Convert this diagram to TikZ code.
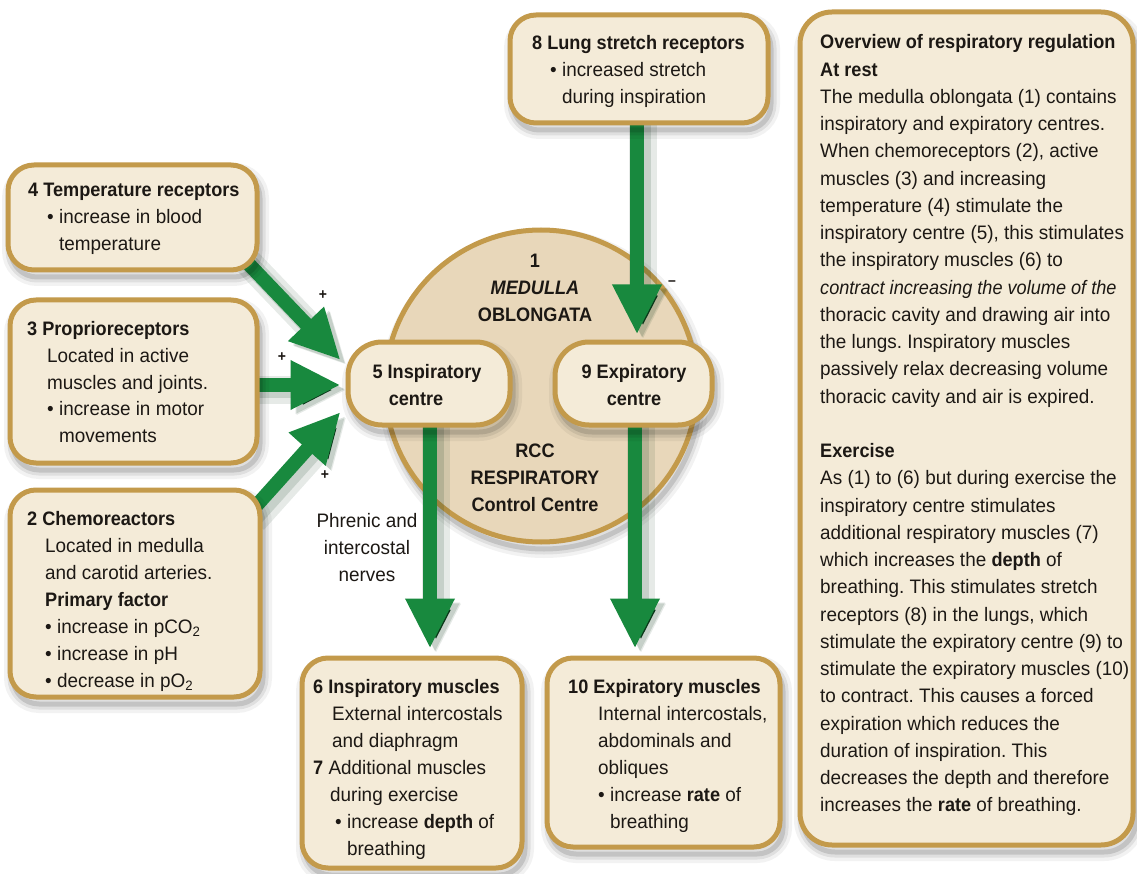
\documentclass[tikz,border=0pt]{standalone}
\usepackage{fontspec}
\setmainfont{Liberation Sans}[UprightFeatures={FakeStretch=0.97},ItalicFeatures={FakeStretch=0.93},
  BoldFeatures={FakeStretch=0.93},BoldItalicFeatures={FakeStretch=0.93}]
\usetikzlibrary{arrows.meta}
\frenchspacing

\definecolor{rim}{RGB}{195,154,75}
\definecolor{cream}{RGB}{244,235,216}
\definecolor{medtan}{RGB}{232,215,186}
\definecolor{leaf}{RGB}{24,137,62}
\definecolor{ink}{RGB}{28,24,20}

% stacked lines with a fixed baseline skip; first baseline is the reference
\newcommand{\textrows}[2][l]{\begin{tabular}[t]{@{}#1@{}}#2\end{tabular}}
\newcommand{\bul}{•\ }
\newcommand{\bulsp}{\phantom{•\ }}

\pgfdeclarelayer{back}
\pgfdeclarelayer{arrowlayer}
\pgfsetlayers{back,arrowlayer,main}

\tikzset{
  softshadow/.style={
    preaction={draw=black, draw opacity=0.05, line width=18pt, transform canvas={shift={(3pt,-7pt)}}},
    preaction={draw=black, draw opacity=0.08, line width=11pt, transform canvas={shift={(3pt,-7pt)}}},
    preaction={draw=black, draw opacity=0.12, line width=5pt, transform canvas={shift={(3pt,-7pt)}}}},
  box/.style={softshadow, draw=rim, line width=5pt, fill=cream, rounded corners=26pt, inner sep=0pt},
  txt/.style={inner sep=0pt, anchor=base west, text=ink, font=\fontsize{19.5}{27}\selectfont},
  ctxt/.style={txt, anchor=base},
  sign/.style={inner sep=0pt, text=ink, font=\bfseries\fontsize{15}{15}\selectfont},
  flow/.style={draw=leaf, line width=14pt, -{Triangle[length=50pt,width=46pt]},
    preaction={draw=leaf!40!black, draw opacity=0.10, line width=28pt,
      transform canvas={shift={(6pt,-5pt)}}},
    preaction={draw=leaf!40!black, draw opacity=0.14, line width=18pt,
      transform canvas={shift={(5pt,-4pt)}}}},
}

\begin{document}
\begin{tikzpicture}[x=1pt,y=-1pt]
\useasboundingbox (0,0) rectangle (1137,874);

% medulla oblongata
\begin{pgfonlayer}{back}
\fill[white] (0,0) rectangle (1137,874);
\node[softshadow, circle, draw=rim, line width=5pt, fill=medtan, minimum size=312pt, inner sep=0pt] (med) at (541,386) {};
\end{pgfonlayer}
\node[ctxt] (medtxt) at (535,268) {\textrows[c]{\textbf{1}\\\textbf{\textit{MEDULLA}}\\\textbf{OBLONGATA}}};
\node[ctxt] (rcctxt) at (535,457) {\textrows[c]{\textbf{RCC}\\\textbf{RESPIRATORY}\\\textbf{Control Centre}}};

% boxes
\node[box, minimum width=258pt, minimum height=108pt] (b8) at (639,69) {};
\node[box, minimum width=249pt, minimum height=105pt] (b4) at (132.5,217.5) {};
\node[box, minimum width=247pt, minimum height=163pt] (b3) at (133.5,381.5) {};
\node[box, minimum width=250pt, minimum height=207pt] (b2) at (135,593.5) {};
\node[box, rounded corners=34pt, minimum width=162pt, minimum height=83pt] (b5) at (429,383.5) {};
\node[box, rounded corners=34pt, minimum width=157pt, minimum height=83pt] (b9) at (633.5,383.5) {};
\node[box, minimum width=220pt, minimum height=210pt] (b6) at (412,763) {};
\node[box, minimum width=233pt, minimum height=189pt] (b10) at (663.5,752.5) {};
\node[box, rounded corners=32pt, minimum width=333pt, minimum height=833pt] (panel) at (966.5,428.5) {};

% box texts
\node[txt] (t8) at (532,50) {\textrows{\textbf{8 Lung stretch receptors}\\
  \hspace*{18pt}\bul increased stretch\\
  \hspace*{18pt}\bulsp during inspiration}};
\node[txt] (t4) at (28,197) {\textrows{\textbf{4 Temperature receptors}\\
  \hspace*{19pt}\bul increase in blood\\
  \hspace*{19pt}\bulsp temperature}};
\node[txt] (t3) at (27,335) {\textrows{\textbf{3 Proprioreceptors}\\
  \hspace*{20pt}Located in active\\
  \hspace*{20pt}muscles and joints.\\
  \hspace*{20pt}\bul increase in motor\\
  \hspace*{20pt}\bulsp movements}};
\node[txt] (t2) at (27,525) {\textrows{\textbf{2 Chemoreactors}\\
  \hspace*{18pt}Located in medulla\\
  \hspace*{18pt}and carotid arteries.\\
  \hspace*{18pt}\textbf{Primary factor}\\
  \hspace*{18pt}\bul increase in pCO\textsubscript{2}\\
  \hspace*{18pt}\bul increase in pH\\
  \hspace*{18pt}\bul decrease in pO\textsubscript{2}}};
\node[ctxt] (t5) at (427,378) {\textrows[c]{\textbf{5 Inspiratory}\\\textbf{centre}\hspace*{22pt}}};
\node[ctxt] (t9) at (634,378) {\textrows[c]{\textbf{9 Expiratory}\\\textbf{centre}}};
\node[txt] (t6) at (313,693) {\textrows{\textbf{6 Inspiratory muscles}\\
  \hspace*{19pt}External intercostals\\
  \hspace*{19pt}and diaphragm\\
  \textbf{7} Additional muscles\\
  \hspace*{17pt}during exercise\\
  \hspace*{22pt}\bul increase \textbf{depth} of\\
  \hspace*{22pt}\bulsp breathing}};
\node[txt] (t10) at (568,693) {\textrows{\textbf{10 Expiratory muscles}\\
  \hspace*{30pt}Internal intercostals,\\
  \hspace*{30pt}abdominals and\\
  \hspace*{30pt}obliques\\
  \hspace*{30pt}\bul increase \textbf{rate} of\\
  \hspace*{30pt}\bulsp breathing}};
\node[ctxt] (nerves) at (367,527) {\textrows[c]{Phrenic and\\intercostal\\nerves}};

% overview text
\node[txt, font=\fontsize{19.5}{27.25}\selectfont] (overview) at (820,49) {\textrows{%
  \textbf{Overview of respiratory regulation}\\
  \textbf{At rest}\\
  The medulla oblongata (1) contains\\
  inspiratory and expiratory centres.\\
  When chemoreceptors (2), active\\
  muscles (3) and increasing\\
  temperature (4) stimulate the\\
  inspiratory centre (5), this stimulates\\
  the inspiratory muscles (6) to\\
  \textit{contract increasing the volume of the}\\
  thoracic cavity and drawing air into\\
  the lungs. Inspiratory muscles\\
  passively relax decreasing volume\\
  thoracic cavity and air is expired.\\
  \\
  \textbf{Exercise}\\
  As (1) to (6) but during exercise the\\
  inspiratory centre stimulates\\
  additional respiratory muscles (7)\\
  which increases the \textbf{depth} of\\
  breathing. This stimulates stretch\\
  receptors (8) in the lungs, which\\
  stimulate the expiratory centre (9) to\\
  stimulate the expiratory muscles (10)\\
  to contract. This causes a forced\\
  expiration which reduces the\\
  duration of inspiration. This\\
  decreases the depth and therefore\\
  increases the \textbf{rate} of breathing.}};

% excitatory / inhibitory signs
\node[sign] (s4) at (323,295) {+};
\node[sign] (s3) at (282,357) {+};
\node[sign] (s2) at (325,475) {+};
\node[sign] (s8) at (672,283) {\textendash};

% connectors
\begin{pgfonlayer}{arrowlayer}
\draw[flow] ([xshift=-17pt,yshift=15pt]b4.south east) -- ([xshift=-5pt,yshift=23.5pt]b5.west);
\draw[flow] ([xshift=-12pt,yshift=-3.5pt]b3.east) -- ([xshift=-5pt,yshift=-1.5pt]b5.west);
\draw[flow] ([xshift=-15pt,yshift=-28pt]b2.north east) -- ([xshift=-5pt,yshift=-28.5pt]b5.west);
\draw[flow] ([xshift=-2pt,yshift=10pt]b8.south) -- ([xshift=3.5pt,yshift=5pt]b9.north);
\draw[flow] ([xshift=1pt,yshift=10pt]b5.south) -- ([xshift=18pt,yshift=7pt]b6.north);
\draw[flow] ([xshift=1.5pt,yshift=10pt]b9.south) -- ([xshift=-28.5pt,yshift=7pt]b10.north);
\end{pgfonlayer}
\end{tikzpicture}
\end{document}
